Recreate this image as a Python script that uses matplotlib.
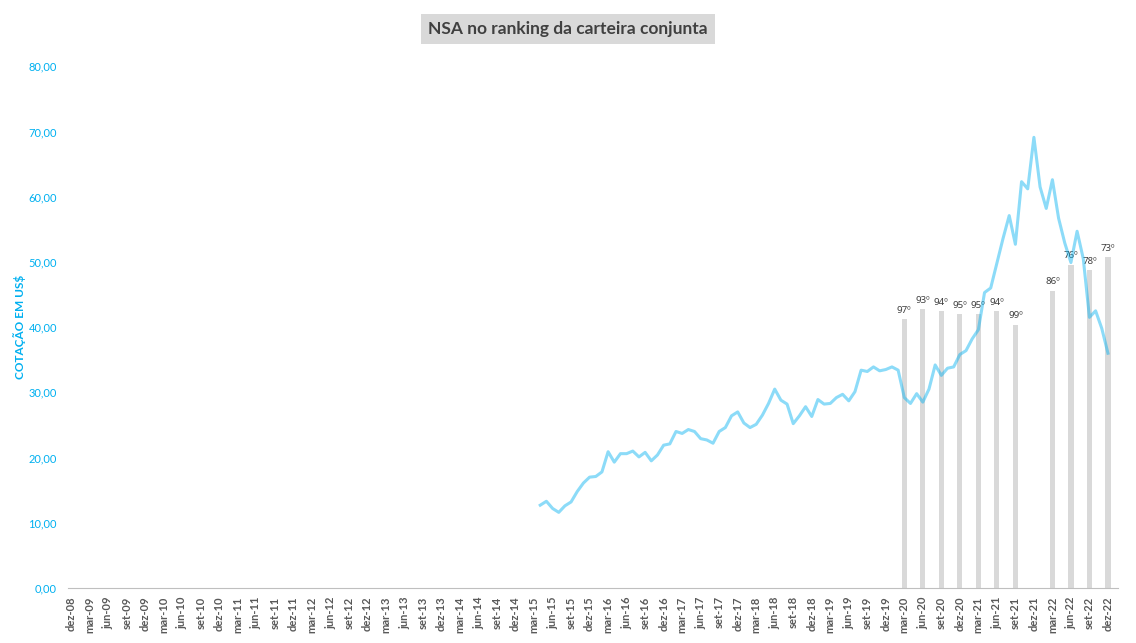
import matplotlib.pyplot as plt
import pandas as pd

plt.rcParams['font.family'] = ['Lato', 'DejaVu Sans']

# meses do eixo x (dez-08 a dez-22)
meses_pt = ['jan', 'fev', 'mar', 'abr', 'mai', 'jun', 'jul', 'ago', 'set', 'out', 'nov', 'dez']
datas = pd.date_range('2008-12-01', '2022-12-01', freq='MS')
rotulos = [f"{meses_pt[d.month - 1]}-{d.year % 100:02d}" for d in datas]

# cotação mensal em US$ (abr-15 a dez-22)
inicio_cotacao = 'abr-15'
cotacao = [
    12.7, 13.3, 12.2, 11.6, 12.6, 13.2, 14.8, 16.1, 17.0,
    17.1, 17.8, 20.9, 19.3, 20.6, 20.6, 21.0, 20.1, 20.8, 19.5, 20.4, 21.9,
    22.1, 24.0, 23.7, 24.3, 24.0, 22.9, 22.7, 22.2, 24.0, 24.6, 26.4, 27.0,
    25.3, 24.6, 25.1, 26.5, 28.3, 30.5, 28.8, 28.2, 25.2, 26.4, 27.8, 26.3,
    28.9, 28.2, 28.3, 29.2, 29.7, 28.7, 30.1, 33.4, 33.2, 33.9, 33.3, 33.5,
    33.9, 33.4, 29.2, 28.3, 29.8, 28.5, 30.5, 34.2, 32.6, 33.7, 33.9, 35.8,
    36.4, 38.2, 39.6, 45.3, 46.0, 49.8, 53.6, 57.1, 52.7, 62.3, 61.2, 69.1,
    61.5, 58.2, 62.6, 56.7, 52.9, 49.9, 54.7, 50.5, 41.5, 42.5, 39.8, 36.0,
]

# posição no ranking da carteira conjunta
ranking_meses = ['mar-20', 'jun-20', 'set-20', 'dez-20', 'mar-21', 'jun-21',
                 'set-21', 'mar-22', 'jun-22', 'set-22', 'dez-22']
ranking = [97, 93, 94, 95, 95, 94, 99, 86, 76, 78, 73]

azul = '#00B0F0'
cinza_txt = '#595959'

fig = plt.figure(figsize=(11.36, 6.43), dpi=100)
ax = fig.add_axes([0.060, 0.0855, 0.924, 0.8115])
ax2 = ax.twinx()

# barras do ranking (eixo secundário invertido, escondido)
x_rank = [rotulos.index(m) for m in ranking_meses]
ax2.bar(x_rank, [r - 200 for r in ranking], bottom=200, width=0.85,
        color='#D9D9D9', zorder=1)
for xr, r in zip(x_rank, ranking):
    ax2.annotate(f'{r}º', (xr, r), xytext=(0, 3), textcoords='offset points',
                 ha='center', va='bottom', fontsize=7, color='#404040',
                 family=['Noto Sans', 'DejaVu Sans'])
ax2.set_ylim(200, 0)
ax2.axis('off')

# linha da cotação
i0 = rotulos.index(inicio_cotacao)
x_cot = list(range(i0, i0 + len(cotacao)))
ax.plot(x_cot, cotacao, color=azul, alpha=0.45, linewidth=2.2, zorder=3)
ax.set_zorder(ax2.get_zorder() + 1)
ax.patch.set_visible(False)

ax.set_xlim(-0.5, len(rotulos) + 0.6)
ax2.set_xlim(-0.5, len(rotulos) + 0.6)
ax.set_ylim(0, 80)
ax.set_yticks(range(0, 81, 10))
ax.set_yticklabels([f'{v},00' for v in range(0, 81, 10)], fontsize=8, color=azul)
ax.set_xticks(range(0, len(rotulos), 3))
ax.set_xticklabels(rotulos[::3], rotation=90, fontsize=8, color=cinza_txt,
                   fontweight='bold')
ax.tick_params(length=0, pad=6)
ax.tick_params(axis='y', pad=8)

for s in ['top', 'right', 'left']:
    ax.spines[s].set_visible(False)
ax.spines['bottom'].set_color('#BFBFBF')
ax.spines['bottom'].set_linewidth(0.8)

ax.set_ylabel('COTAÇÃO EM US$', color=azul, fontsize=8.5, fontweight='bold',
              labelpad=2)

fig.suptitle('NSA no ranking da carteira conjunta', y=0.968, fontsize=12.5,
             color='#404040', fontweight='bold',
             bbox=dict(facecolor='#D9D9D9', edgecolor='none', pad=5))

plt.savefig('out.png', dpi=100, facecolor='white')
plt.close()
